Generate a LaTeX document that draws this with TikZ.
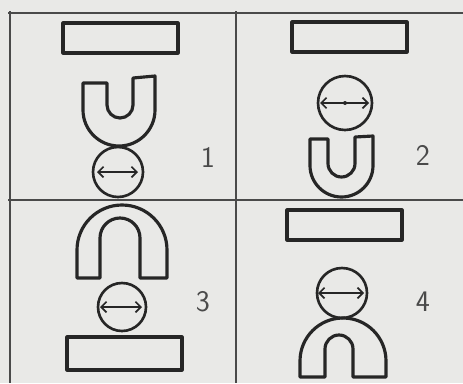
\documentclass[tikz,border=0pt]{standalone}
\usepackage{xcolor}
\usepackage{tikz}
\usetikzlibrary{arrows.meta}
\definecolor{pencilmain}{HTML}{262626}
\definecolor{pencilgray}{HTML}{4A4A4A}
\definecolor{paperbg}{HTML}{E9E9E7}
\tikzset{every node/.append style={font=\sffamily}}

\begin{document}
\begin{tikzpicture}[x=0.02cm,y=0.02cm,>={Straight Barb[length=3pt,width=6pt]},
  gridline/.style={pencilgray,line width=1.1pt},
  part/.style={pencilmain,line width=1.8pt,line join=round},
  ball/.style={pencilmain,line width=1.5pt},
  dia/.style={<->,pencilmain,line width=1pt},
  panelnum/.style={pencilgray,font=\sffamily\fontsize{17}{17}\selectfont}]
  \fill[paperbg] (0,0) rectangle (463,383);
  \useasboundingbox (0,0) rectangle (463,383);
  % grid
  \draw[gridline] (8,370)--(463,370);
  \draw[gridline] (8,183)--(463,183);
  \draw[gridline] (10,372)--(10,0);
  \draw[gridline] (236,372)--(236,0);
  % panel 1
  \draw[part] (63,330) rectangle (178,360);
  \draw[part] (83,300)--(83,273) arc (180:360:36)--(155,307)--(133,305)--(133,278)
    arc (0:-180:13)--(107,300)--cycle;
  \draw[ball] (118,211) circle (25);
  \coordinate (a1) at (97,211);
  \coordinate (b1) at (138,211);
  \draw[dia] (a1)--(b1);
  \node[panelnum] (n1) at (208,226) {1};
  % panel 2
  \draw[part] (292,331) rectangle (407,361);
  \draw[ball] (345,280) circle (27);
  \coordinate (a2) at (320,280);
  \coordinate (b2) at (369,280);
  \draw[dia] (a2)--(b2);
  \fill[pencilmain] (345,280) circle (2);
  \draw[part] (310,244)--(310,217.5) arc (180:360:31.5)--(373,247)--(355,246)--(355,219.5)
    arc (0:-180:13.5)--(328,244)--cycle;
  \node[panelnum] (n2) at (423,228) {2};
  % panel 3
  \draw[part] (77,105)--(77,133) arc (180:0:45)--(167,105)--(140,105)--(140,145)
    arc (0:180:20)--(100,105)--cycle;
  \draw[ball] (122,76) circle (24);
  \coordinate (a3) at (100,76);
  \coordinate (b3) at (142,76);
  \draw[dia] (a3)--(b3);
  \draw[part] (67,13) rectangle (182,46);
  \node[panelnum] (n3) at (203,81) {3};
  % panel 4
  \draw[part] (287,143) rectangle (402,173);
  \draw[ball] (342,90) circle (25);
  \coordinate (a4) at (318,90);
  \coordinate (b4) at (364,90);
  \draw[dia] (a4)--(b4);
  \draw[part] (300,6)--(300,22) arc (180:0:43)--(386,6)--(353,6)--(353,34)
    arc (0:180:14)--(325,6)--cycle;
  \node[panelnum] (n4) at (423,81) {4};
\end{tikzpicture}
\end{document}
